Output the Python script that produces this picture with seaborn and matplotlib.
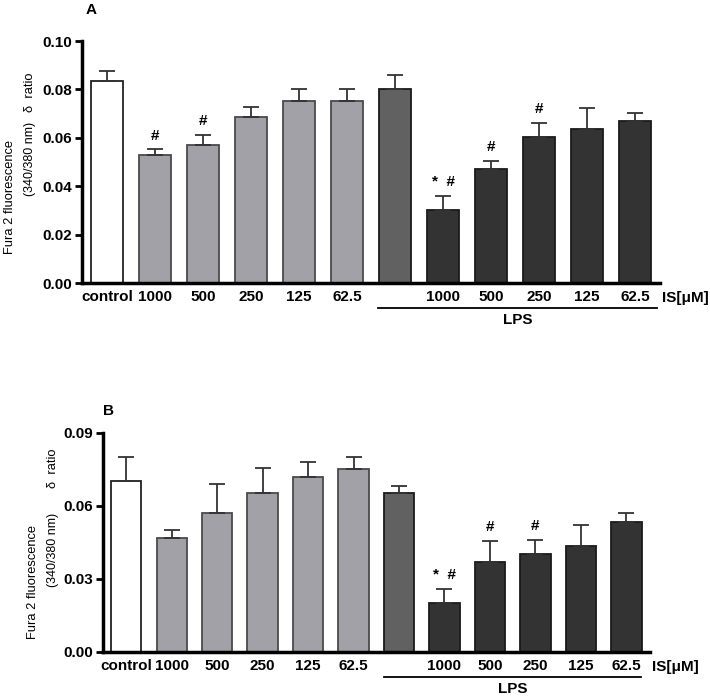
import numpy as np
import pandas as pd
import matplotlib
matplotlib.use('Agg')
import matplotlib.pyplot as plt
import matplotlib.transforms as mtransforms
import seaborn as sns

# **********Data**********
groups = ['control', '1000', '500', '250', '125', '62.5', 'LPS',
          'LPS 1000', 'LPS 500', 'LPS 250', 'LPS 125', 'LPS 62.5']
tick_labels = ['control', '1000', '500', '250', '125', '62.5', '',
               '1000', '500', '250', '125', '62.5']
bar_colors = ['#ffffff'] + ['#a1a1a7'] * 5 + ['#616161'] + ['#333333'] * 5
edge_colors = ['#222222'] + ['#4a4a4a'] * 5 + ['#1a1a1a'] * 6

mean_a = [0.0836, 0.0527, 0.0569, 0.0686, 0.0753, 0.0753, 0.0803,
          0.0303, 0.0470, 0.0603, 0.0636, 0.0669]
sem_a = [0.0041, 0.0025, 0.0043, 0.0040, 0.0050, 0.0050, 0.0058,
         0.0058, 0.0033, 0.0057, 0.0088, 0.0033]
marks_a = ['', '#', '#', '', '', '', '', '*  #', '#', '#', '', '']

mean_b = [0.0702, 0.0467, 0.0569, 0.0651, 0.0717, 0.0751, 0.0651,
          0.0201, 0.0367, 0.0400, 0.0436, 0.0534]
sem_b = [0.0099, 0.0033, 0.0119, 0.0104, 0.0061, 0.0050, 0.0029,
         0.0057, 0.0088, 0.0058, 0.0086, 0.0035]
marks_b = ['', '', '', '', '', '', '', '*  #', '#', '#', '', '']

plt.rcParams['font.family'] = ['Liberation Sans', 'DejaVu Sans']


def draw_panel(ax, means, sems, marks, yticks, ymax, xlim, lps_span):
    df = pd.DataFrame({'group': groups, 'value': means})
    sns.barplot(data=df, x='group', y='value', hue='group', order=groups,
                palette=bar_colors, legend=False, width=0.667, ax=ax,
                saturation=1)
    for patch, ec in zip(ax.patches, edge_colors):
        patch.set_edgecolor(ec)
        patch.set_linewidth(1.3)
    pos = np.arange(len(groups))
    ax.errorbar(pos, means, yerr=[np.zeros(len(sems)), sems], fmt='none',
                ecolor='#333333', elinewidth=1.3, capsize=5.5, capthick=1.3,
                zorder=1)
    for i, m in enumerate(marks):
        if m:
            ax.annotate(m, (pos[i], means[i] + sems[i]), xytext=(0, 5),
                        textcoords='offset points', ha='center', va='bottom',
                        fontsize=11, fontweight='bold')
    ax.set_xlim(*xlim)
    ax.set_ylim(0, ymax)
    ax.set_yticks(yticks)
    ax.set_yticklabels([f'{t:.2f}' for t in yticks], fontsize=11,
                       fontweight='bold')
    ax.set_xticks(pos)
    ax.set_xticklabels(tick_labels, fontsize=11, fontweight='bold')
    ax.tick_params(axis='x', length=0, pad=5)
    ax.tick_params(axis='y', length=5, width=2, pad=2)
    ax.set_xlabel('')
    ax.set_ylabel('')
    for s in ['top', 'right']:
        ax.spines[s].set_visible(False)
    for s in ['left', 'bottom']:
        ax.spines[s].set_linewidth(2.5)
    # LPS bracket under the x labels
    base = ax.get_xaxis_transform()
    line_tr = mtransforms.offset_copy(base, fig=ax.figure, y=-25, units='dots')
    ax.plot(lps_span, [0, 0], transform=line_tr, color='black', lw=1.3,
            clip_on=False)
    lps_tr = mtransforms.offset_copy(base, fig=ax.figure, y=-37, units='dots')
    ax.text(np.mean(lps_span), 0, 'LPS', transform=lps_tr, ha='center',
            va='center', fontsize=11, fontweight='bold')
    is_tr = mtransforms.offset_copy(ax.transAxes, fig=ax.figure, x=2, y=-15,
                                    units='dots')
    ax.text(1.0, 0, 'IS[\u03bcM]', transform=is_tr, ha='left', va='center',
            fontsize=11, fontweight='bold')


fig = plt.figure(figsize=(7.1, 6.99), dpi=100)
ax_a = fig.add_axes([0.1155, 0.5951, 0.8141, 0.3462])
ax_b = fig.add_axes([0.1451, 0.0677, 0.7704, 0.3133])

draw_panel(ax_a, mean_a, sem_a, marks_a, [0, 0.02, 0.04, 0.06, 0.08, 0.10],
           0.10, (-0.52, 11.52), (5.65, 11.46))
draw_panel(ax_b, mean_b, sem_b, marks_b, [0, 0.03, 0.06, 0.09],
           0.09, (-0.51, 11.52), (5.68, 11.33))

# panel letters
fig.text(91 / 710, 1 - 10 / 699, 'A', ha='center', va='center', fontsize=11,
         fontweight='bold')
fig.text(109 / 710, 1 - 411 / 699, 'B', ha='center', va='center', fontsize=11,
         fontweight='bold')

# y axis labels
ylab = dict(rotation=90, ha='center', va='center', fontsize=9.3)
narrow = dict(rotation=90, ha='center', va='center', fontsize=9,
              family=['Liberation Sans Narrow', 'Liberation Sans'])
fig.text(10 / 710, 1 - 197 / 699, 'Fura 2 fluorescence', **ylab)
fig.text(30 / 710, 1 - 159 / 699, '(340/380 nm)', **narrow)
fig.text(30 / 710, 1 - 92 / 699, '\u03b4  ratio', **ylab)
fig.text(33 / 710, 1 - 582 / 699, 'Fura 2 fluorescence', **ylab)
fig.text(53 / 710, 1 - 550 / 699, '(340/380 nm)', **narrow)
fig.text(53 / 710, 1 - 468 / 699, '\u03b4  ratio', **ylab)

plt.savefig('out.png', dpi=100)
plt.close(fig)
